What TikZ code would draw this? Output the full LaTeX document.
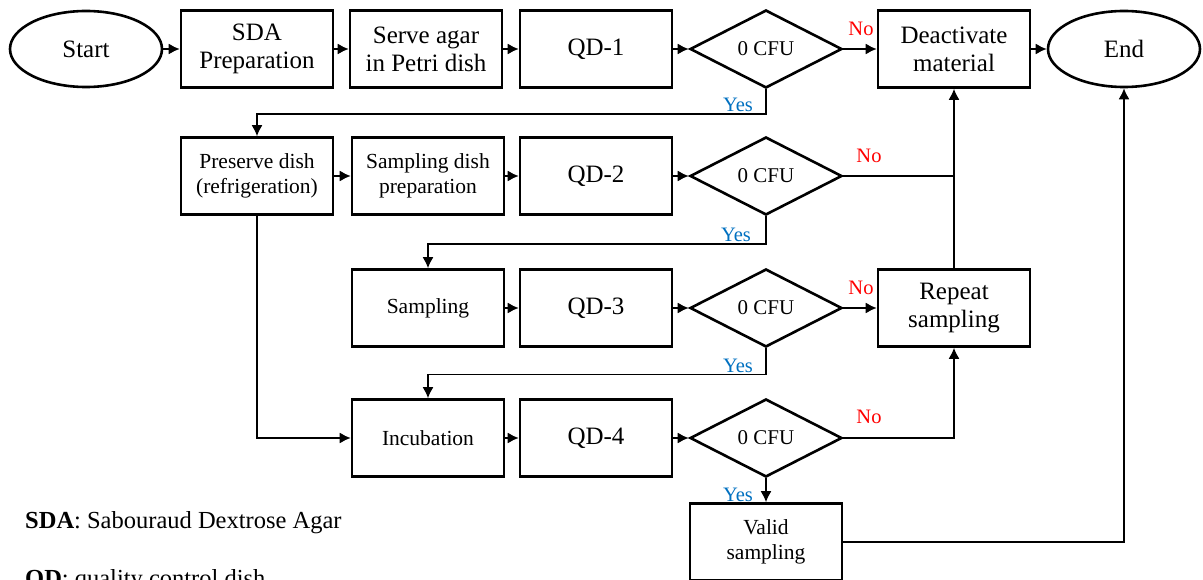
\documentclass[tikz,border=0pt]{standalone}
\usepackage{fontspec}
\setmainfont{Liberation Serif}
\usepackage{xcolor}
\usetikzlibrary{shapes.geometric,arrows.meta}
\definecolor{nored}{RGB}{255,0,0}
\definecolor{yesblue}{RGB}{0,112,192}

\begin{document}
\begin{tikzpicture}[x=1pt,y=-1pt,>={Latex[length=11pt,width=11pt]},
  box/.style={draw,line width=2.6pt,minimum width=152pt,minimum height=77pt,inner sep=0pt,align=center,font=\fontsize{25}{28}\selectfont},
  smallbox/.style={box,font=\fontsize{21.5}{25}\selectfont},
  term/.style={box,ellipse,minimum height=76pt},
  test/.style={draw,diamond,line width=2.6pt,minimum width=152pt,minimum height=78pt,inner sep=0pt,font=\fontsize{21}{24}\selectfont},
  flow/.style={line width=1.6pt},
  nolab/.style={text=nored,inner sep=0pt,font=\fontsize{20.5}{22}\selectfont},
  yeslab/.style={text=yesblue,inner sep=0pt,font=\fontsize{20.5}{22}\selectfont},
  note/.style={anchor=base west,inner sep=0pt,font=\fontsize{24.5}{27}\selectfont}]
  \useasboundingbox (0,0) rectangle (1203,580);
  % Row 1
  \node[term] (start) at (86,49) {Start};
  \node[box] (sda) at (257,49) {SDA\\Preparation};
  \node[box] (serve) at (426,49) {Serve agar\\in Petri dish};
  \node[box] (qd1) at (596,49) {QD-1};
  \node[test] (cfu1) at (766,49) {0 CFU};
  \node[box] (deact) at (954,49) {Deactivate\\material};
  \node[term] (stop) at (1124,49) {End};
  % Row 2
  \node[smallbox] (pres) at (257,176) {Preserve dish\\(refrigeration)};
  \node[smallbox] (sdp) at (428,176) {Sampling dish\\preparation};
  \node[box] (qd2) at (596,176) {QD-2};
  \node[test] (cfu2) at (766,176) {0 CFU};
  % Row 3
  \node[smallbox] (samp) at (428,308) {Sampling};
  \node[box] (qd3) at (596,308) {QD-3};
  \node[test] (cfu3) at (766,308) {0 CFU};
  \node[box] (rep) at (954,308) {Repeat\\sampling};
  % Row 4
  \node[smallbox] (incu) at (428,438) {Incubation};
  \node[box] (qd4) at (596,438) {QD-4};
  \node[test] (cfu4) at (766,438) {0 CFU};
  \node[smallbox] (valid) at (766,542) {Valid\\sampling};
  % Yes / No
  \node[nolab] (no1) at (861,29) {No};
  \node[nolab] (no2) at (869,156) {No};
  \node[nolab] (no3) at (861,288) {No};
  \node[nolab] (no4) at (869,417) {No};
  \node[yeslab] (yes1) at (738,105) {Yes};
  \node[yeslab] (yes2) at (736,235) {Yes};
  \node[yeslab] (yes3) at (738,366) {Yes};
  \node[yeslab] (yes4) at (738,495) {Yes};
  % Legend
  \node[note] (sdanote) at (25,528) {\textbf{SDA}: Sabouraud Dextrose Agar};
  \node[note] (qdnote) at (25,586) {\textbf{QD}: quality control dish};
  % Connectors
  \draw[flow,->] (start) -- (sda);
  \draw[flow,->] (sda) -- (serve);
  \draw[flow,->] (serve) -- (qd1);
  \draw[flow,->] (qd1) -- (cfu1);
  \draw[flow,->] (cfu1) -- (deact);
  \draw[flow,->] (deact) -- (stop);
  \draw[flow,->] (cfu1.south) -- ++(0,25) -| (pres.north);
  \draw[flow,->] (pres) -- (sdp);
  \draw[flow,->] (sdp) -- (qd2);
  \draw[flow,->] (qd2) -- (cfu2);
  \draw[flow] (cfu2.east) -- (cfu2.east -| deact.south);
  \draw[flow,->] (rep.north) -- (deact.south);
  \draw[flow,->] (cfu2.south) -- ++(0,28) -| (samp.north);
  \draw[flow,->] (samp) -- (qd3);
  \draw[flow,->] (qd3) -- (cfu3);
  \draw[flow,->] (cfu3) -- (rep);
  \draw[flow,->] (cfu3.south) -- ++(0,26) -| (incu.north);
  \draw[flow,->] (pres.south) |- (incu.west);
  \draw[flow,->] (incu) -- (qd4);
  \draw[flow,->] (qd4) -- (cfu4);
  \draw[flow,->] (cfu4.east) -| (rep.south);
  \draw[flow,->] (cfu4.south) -- (valid.north);
  \draw[flow,->] (valid.east) -| (stop.south);
\end{tikzpicture}
\end{document}
